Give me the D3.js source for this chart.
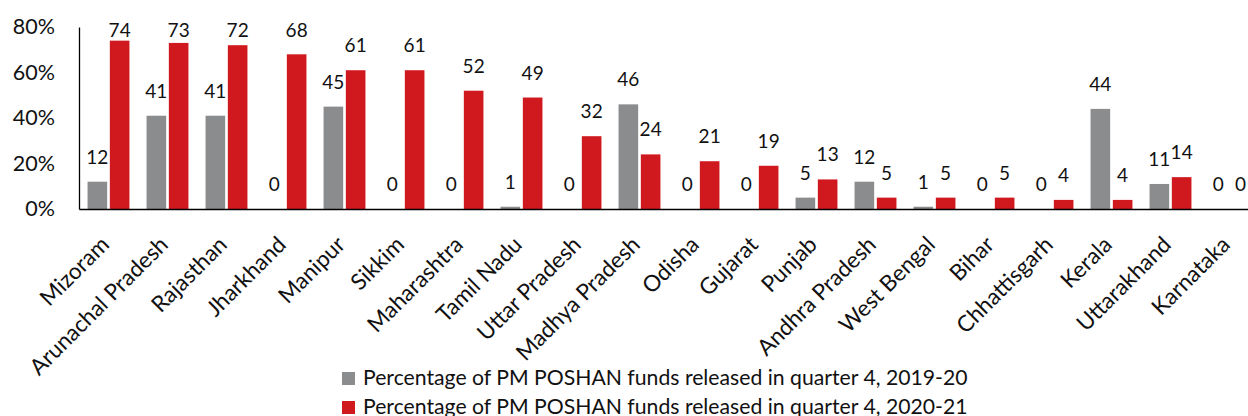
<!DOCTYPE html>
<html><head><meta charset="utf-8">
<script src="https://cdn.jsdelivr.net/npm/d3@7"></script>
<style>body{margin:0;background:#fff;overflow:hidden}svg{display:block}</style>
</head><body>
<svg id="c" width="1248" height="416"></svg>
<script>
const categories = ["Mizoram","Arunachal Pradesh","Rajasthan","Jharkhand","Manipur","Sikkim","Maharashtra","Tamil Nadu","Uttar Pradesh","Madhya Pradesh","Odisha","Gujarat","Punjab","Andhra Pradesh","West Bengal","Bihar","Chhattisgarh","Kerala","Uttarakhand","Karnataka"];
const values2019 = [12,41,41,0,45,0,0,1,0,46,0,0,5,12,1,0,0,44,11,0];
const values2021 = [74,73,72,68,61,61,52,49,32,24,21,19,13,5,5,5,4,4,14,0];
const seriesNames = ["Percentage of PM POSHAN funds released in quarter 4, 2019-20","Percentage of PM POSHAN funds released in quarter 4, 2020-21"];
const yTicks = [0,20,40,60,80];
const colors = ["#8b8c8e","#d0191f"];
const FONT = "Lato, 'Noto Sans', sans-serif";

const svg = d3.select("#c");
const mLeft = 79, step = 59, mBottom = 209, mTop = 27;
const x0 = d3.scaleBand().domain(categories).range([mLeft, mLeft + step*categories.length]).paddingInner(0.29).paddingOuter(0.145);
const x1 = d3.scaleBand().domain([0,1]).range([0, x0.bandwidth()]).paddingInner(0.12);
const y = d3.scaleLinear().domain([0,80]).range([mBottom, mTop]);

const data = categories.map((c,i)=>({c, v:[values2019[i], values2021[i]]}));

const g = svg.append("g");
const groups = g.selectAll("g.grp").data(data).enter().append("g").attr("transform", d=>`translate(${x0(d.c)},0)`);
groups.selectAll("rect").data(d=>d.v.map((v,k)=>({v,k}))).enter().append("rect")
  .attr("x", d=>x1(d.k)).attr("width", x1.bandwidth())
  .attr("y", d=>y(d.v)).attr("height", d=>mBottom - y(d.v))
  .attr("fill", d=>colors[d.k]);
groups.selectAll("text").data(d=>d.v.map((v,k)=>({v,k}))).enter().append("text")
  .attr("x", d=>x1(d.k)+x1.bandwidth()/2)
  .attr("y", d=>Math.max(y(d.v)-18, 37))
  .attr("text-anchor","middle").attr("font-family",FONT).attr("font-size",19).attr("fill","#111")
  .text(d=>d.v);

// y axis
const ya = svg.append("g").attr("transform",`translate(${mLeft},0)`)
  .call(d3.axisLeft(y).tickValues(yTicks).tickSize(0).tickPadding(24).tickFormat(d=>d+"%"));
ya.select(".domain").attr("stroke","#000").attr("stroke-width",1.3);
ya.selectAll("text").attr("font-family",FONT).attr("font-size",21.5).attr("fill","#111");

// x axis
const xa = svg.append("g").attr("transform",`translate(0,${mBottom})`)
  .call(d3.axisBottom(x0).tickSize(0).tickSizeOuter(0));
xa.select(".domain").attr("stroke","#000").attr("stroke-width",1.6);
xa.selectAll("text").attr("font-family",FONT).attr("font-size",22.5).attr("fill","#111")
  .attr("text-anchor","end").attr("dy",0)
  .attr("transform","translate(2,37) rotate(-45)").attr("y",0).attr("x",0);

// legend
const lg = svg.append("g");
seriesNames.forEach((s,i)=>{
  const yy = 372 + i*29;
  lg.append("rect").attr("x",342).attr("y",yy).attr("width",13).attr("height",13).attr("fill",colors[i]);
  lg.append("text").attr("x",363).attr("y",yy+13).attr("font-family",FONT).attr("font-size",21.2).attr("fill","#111").text(s);
});
</script>
</body></html>
